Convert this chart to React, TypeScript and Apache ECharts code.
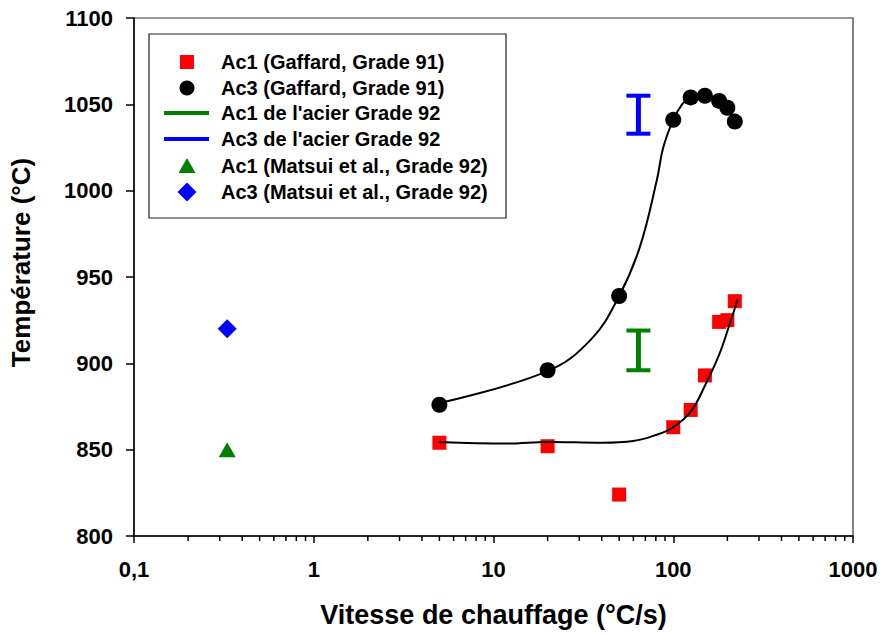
import React, { useEffect, useRef } from "react";
import * as echarts from "echarts";

// Gaffard, Grade 91 — measured points
const gaffardRates = [5, 20, 50, 100, 125, 150, 180, 200, 220];
const ac1Gaffard = [854, 852, 824, 863, 873, 893, 924, 925, 936];
const ac3Gaffard = [876, 896, 939, 1041, 1054, 1055, 1052, 1048, 1040];

// Fitted curves
const ac1FitRates = [5, 12, 20, 40, 60, 80, 100, 125, 150, 180, 205, 228];
const ac1FitTemps = [854.5, 853.5, 854.5, 854, 855, 858.5, 863, 872, 887, 905, 922, 937];
const ac3FitRates = [5, 20, 35, 50, 65, 81, 88, 100, 112, 125, 150, 180, 200, 220];
const ac3FitTemps = [877, 895.5, 914, 939, 967, 1006, 1025, 1041, 1050, 1054, 1055, 1052, 1048, 1041];

// Grade 92 ranges: [rate, low, high]
const ac1Grade92 = [64, 896, 919];
const ac3Grade92 = [64, 1033, 1055];

// Matsui et al., Grade 92
const matsuiRate = [0.33];
const ac1Matsui = [850];
const ac3Matsui = [920];

// Axis
const xTickLabels = ["0,1", "1", "10", "100", "1000"];
const decadeStarts = [0.1, 1, 10, 100];
const minorMultipliers = [2, 3, 4, 5, 6, 7, 8, 9];

const legendNames = [
  "Ac1 (Gaffard, Grade 91)",
  "Ac3 (Gaffard, Grade 91)",
  "Ac1 de l'acier Grade 92",
  "Ac3 de l'acier Grade 92",
  "Ac1 (Matsui et al., Grade 92)",
  "Ac3 (Matsui et al., Grade 92)",
];

const FONT = 'Arial, "Liberation Sans", sans-serif';
const RED = "#ff0000";
const GREEN = "#008000";
const BLUE = "#0000ff";

export default function App() {
  const ref = useRef<HTMLDivElement>(null);
  useEffect(() => {
    if (!ref.current) return;
    const chart = echarts.init(ref.current, null, { renderer: "svg" });

    const minorTicks: number[][] = [];
    decadeStarts.forEach((d) =>
      minorMultipliers.forEach((m) => minorTicks.push([d * m, 800]))
    );

    const rangeRender = (color: string) => (params: any, api: any) => {
      const x = api.value(0);
      const lo = api.value(1);
      const hi = api.value(2);
      const pt = api.coord([x, hi]);
      const pb = api.coord([x, lo]);
      const hw = 12;
      return {
        type: "group",
        children: [
          { type: "line", shape: { x1: pt[0], y1: pt[1], x2: pb[0], y2: pb[1] }, style: { stroke: color, lineWidth: 5 } },
          { type: "line", shape: { x1: pt[0] - hw, y1: pt[1], x2: pt[0] + hw, y2: pt[1] }, style: { stroke: color, lineWidth: 4 } },
          { type: "line", shape: { x1: pb[0] - hw, y1: pb[1], x2: pb[0] + hw, y2: pb[1] }, style: { stroke: color, lineWidth: 4 } },
        ],
      };
    };

    const lx = 187;
    const rows = [62, 88, 113, 139, 166, 192];
    const legendGraphic: any[] = [
      { type: "rect", shape: { x: 149, y: 34, width: 357, height: 184 }, style: { fill: "#fff", stroke: "#222", lineWidth: 1.2 } },
      { type: "rect", shape: { x: lx - 7, y: rows[0] - 7, width: 14, height: 14 }, style: { fill: RED } },
      { type: "circle", shape: { cx: lx, cy: rows[1], r: 7.5 }, style: { fill: "#000" } },
      { type: "line", shape: { x1: 164, y1: rows[2], x2: 209, y2: rows[2] }, style: { stroke: GREEN, lineWidth: 4 } },
      { type: "line", shape: { x1: 164, y1: rows[3], x2: 209, y2: rows[3] }, style: { stroke: BLUE, lineWidth: 4 } },
      { type: "polygon", shape: { points: [[lx - 8.5, rows[4] + 7], [lx + 8.5, rows[4] + 7], [lx, rows[4] - 8]] }, style: { fill: GREEN } },
      { type: "polygon", shape: { points: [[lx, rows[5] - 9.5], [lx + 9.5, rows[5]], [lx, rows[5] + 9.5], [lx - 9.5, rows[5]]] }, style: { fill: BLUE } },
    ];
    legendNames.forEach((n, i) =>
      legendGraphic.push({
        type: "text",
        x: 221,
        y: rows[i],
        style: { text: n, fill: "#000", font: `bold 20px ${FONT}`, textVerticalAlign: "middle", textAlign: "left" },
      })
    );

    chart.setOption({
      animation: false,
      backgroundColor: "#fff",
      textStyle: { fontFamily: FONT },
      grid: { left: 133, right: 29, top: 18, bottom: 99, show: true, borderColor: "#333", borderWidth: 1.2, containLabel: false },
      xAxis: {
        type: "log",
        logBase: 10,
        min: 0.1,
        max: 1000,
        name: "Vitesse de chauffage (°C/s)",
        nameLocation: "middle",
        nameGap: 65,
        nameTextStyle: { fontSize: 27, fontWeight: "bold", color: "#000", fontFamily: FONT },
        axisLine: { lineStyle: { color: "#000", width: 1.5 } },
        axisTick: { show: true, inside: false, length: 7, lineStyle: { color: "#000", width: 1.5 } },
        axisLabel: {
          fontSize: 22,
          fontWeight: "bold",
          color: "#000",
          margin: 22,
          fontFamily: FONT,
          formatter: (v: number, i: number) => xTickLabels[i] ?? String(v),
        },
        splitLine: { show: false },
        minorTick: { show: false },
      },
      yAxis: {
        type: "value",
        min: 800,
        max: 1100,
        interval: 50,
        name: "Température (°C)",
        nameLocation: "middle",
        nameGap: 100,
        nameTextStyle: { fontSize: 26, fontWeight: "bold", color: "#000", fontFamily: FONT, padding: [0, 0, 0, 29] },
        axisLine: { show: true, lineStyle: { color: "#000", width: 1.5 } },
        axisTick: { show: true, inside: false, length: 8, lineStyle: { color: "#000", width: 1.5 } },
        axisLabel: {
          fontSize: 22,
          fontWeight: "bold",
          color: "#000",
          margin: 21,
          fontFamily: FONT,
          formatter: (v: number) => String(v),
        },
        splitLine: { show: false },
      },
      series: [
        {
          name: legendNames[0],
          type: "scatter",
          symbol: "rect",
          symbolSize: 14,
          itemStyle: { color: RED, opacity: 1 },
          data: gaffardRates.map((r, i) => [r, ac1Gaffard[i]]),
          z: 2,
        },
        {
          name: legendNames[1],
          type: "scatter",
          symbol: "circle",
          symbolSize: 16,
          itemStyle: { color: "#000", opacity: 1 },
          data: gaffardRates.map((r, i) => [r, ac3Gaffard[i]]),
          z: 2,
        },
        {
          name: "Ac1 fit",
          type: "line",
          smooth: 0.4,
          showSymbol: false,
          lineStyle: { color: "#000", width: 2 },
          data: ac1FitRates.map((r, i) => [r, ac1FitTemps[i]]),
          z: 3,
        },
        {
          name: "Ac3 fit",
          type: "line",
          smooth: 0.4,
          showSymbol: false,
          lineStyle: { color: "#000", width: 2 },
          data: ac3FitRates.map((r, i) => [r, ac3FitTemps[i]]),
          z: 3,
        },
        {
          name: legendNames[2],
          type: "custom",
          renderItem: rangeRender(GREEN),
          encode: { x: 0, y: [1, 2] },
          data: [ac1Grade92],
        },
        {
          name: legendNames[3],
          type: "custom",
          renderItem: rangeRender(BLUE),
          encode: { x: 0, y: [1, 2] },
          data: [ac3Grade92],
        },
        {
          name: legendNames[4],
          type: "scatter",
          symbol: "triangle",
          symbolSize: [17, 15],
          itemStyle: { color: GREEN, opacity: 1 },
          data: matsuiRate.map((r, i) => [r, ac1Matsui[i]]),
        },
        {
          name: legendNames[5],
          type: "scatter",
          symbol: "diamond",
          symbolSize: 19,
          itemStyle: { color: BLUE, opacity: 1 },
          data: matsuiRate.map((r, i) => [r, ac3Matsui[i]]),
        },
        {
          name: "minor ticks",
          type: "custom",
          silent: true,
          encode: { x: 0, y: 1 },
          renderItem: (params: any, api: any) => {
            const p = api.coord([api.value(0), api.value(1)]);
            return { type: "line", shape: { x1: p[0], y1: p[1], x2: p[0], y2: p[1] + 5 }, style: { stroke: "#000", lineWidth: 1.5 } };
          },
          data: minorTicks,
        },
      ],
      graphic: legendGraphic,
    });
    return () => chart.dispose();
  }, []);
  return <div ref={ref} style={{ position: "absolute", left: 0, top: 0, width: 882, height: 635 }} />;
}
